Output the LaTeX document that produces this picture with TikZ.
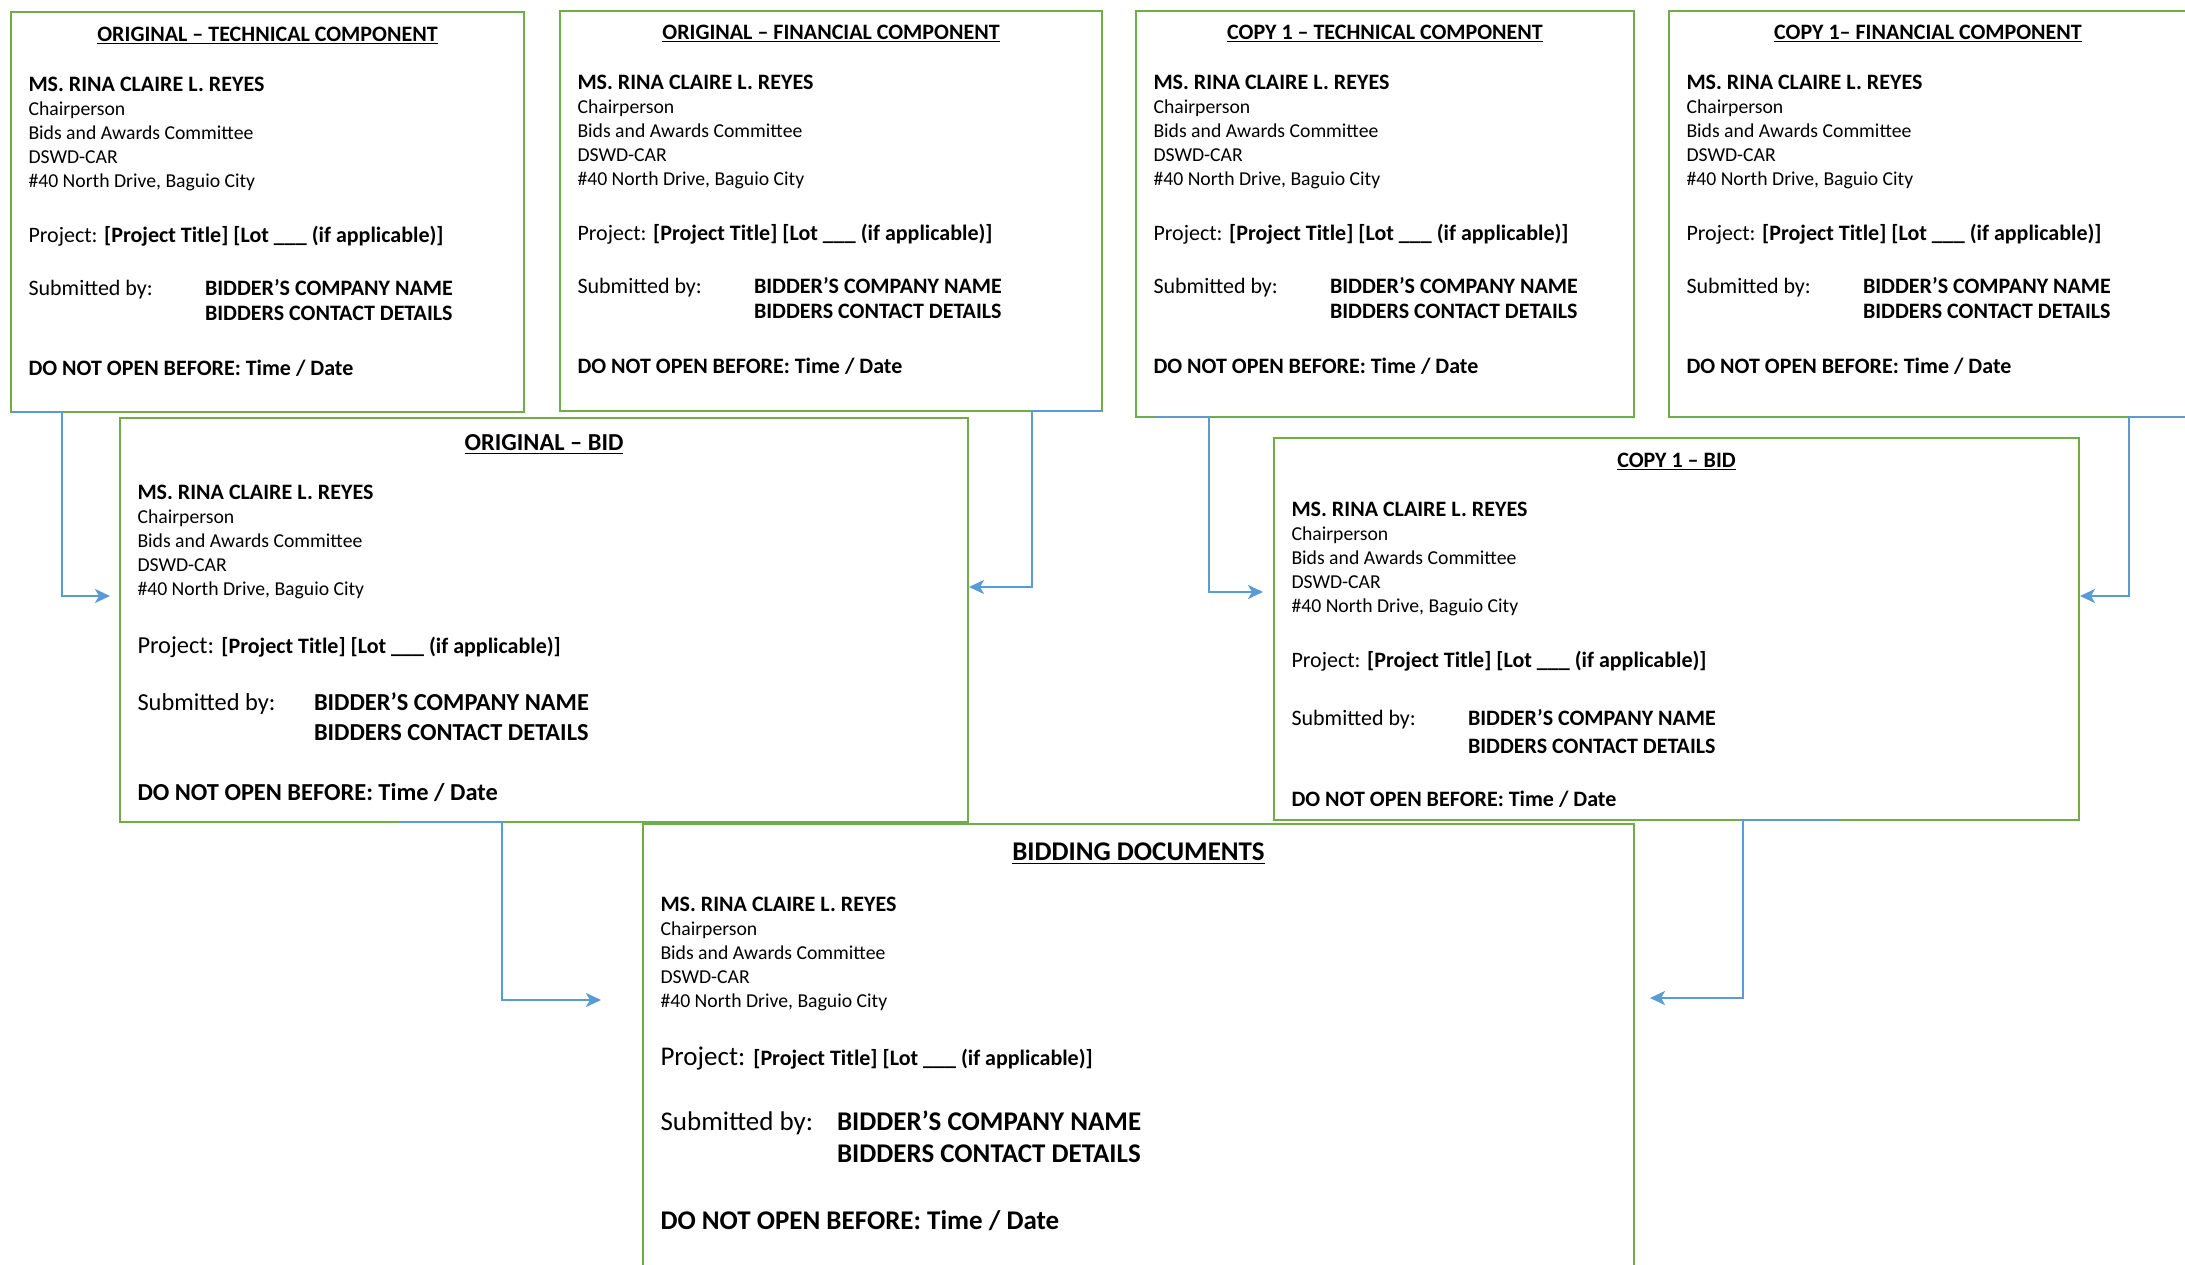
\documentclass[tikz,border=0pt]{standalone}
\usepackage{fontspec}
\setmainfont{Carlito}
\usetikzlibrary{arrows.meta,calc}
\definecolor{boxgreen}{HTML}{70AD47}
\definecolor{connblue}{HTML}{5B9BD5}
\newcommand\fsz[1]{\fontsize{#1pt}{#1pt}\selectfont}
\newcommand\setoffs[8]{\def\oT{#1}\def\oN{#2}\def\oC{#3}\def\oS{#4}\def\oP{#5}\def\oB{#6}\def\oK{#7}\def\oD{#8}}
\tikzset{
  envbox/.style={draw=boxgreen, line width=2.2pt, fill=white, rectangle, inner sep=0pt, outer sep=0pt},
  txt/.style={anchor=base west, inner sep=0pt, outer sep=0pt, text=black},
  conn/.style={draw=connblue, line width=2.2pt, -{Stealth[length=15pt,width=14pt,inset=4pt]}},
  uline/.style={line width=1.4pt, black}
}
% id, left, top, right, bottom, title, title size, body size
\newcommand\envbox[8]{%
  \node[envbox, minimum width={(#4)-(#2)}, minimum height={(#5)-(#3)}, anchor=north west] (#1) at (#2,#3) {};
  \pgfmathsetmacro\cx{((#2)+(#4))/2}%
  \pgfmathsetmacro\lx{(#2)+17.5}%
  \pgfmathsetmacro\rx{(#2)+194}%
  \node[txt, anchor=base, font={\bfseries\fsz{#7}}] (#1-title) at (\cx,{#3+\oT+0.322*#7}) {#6};
  \draw[uline] ([yshift={-0.1*#7}]#1-title.base west) -- ([yshift={-0.1*#7}]#1-title.base east);
  \node[txt, font={\bfseries\fsz{22}}] (#1-name) at (\lx,{#3+\oN+7.1}) {MS. RINA CLAIRE L. REYES};
  \node[txt, font={\fsz{19.7}}] (#1-chair) at (\lx,{#3+\oC+6.3}) {Chairperson};
  \node[txt, font={\fsz{19.7}}] (#1-bac) at (\lx,{#3+\oC+\oS+6.3}) {Bids and Awards Committee};
  \node[txt, font={\fsz{19.7}}] (#1-dswd) at (\lx,{#3+\oC+2*\oS+6.3}) {DSWD-CAR};
  \node[txt, font={\fsz{19.7}}] (#1-addr) at (\lx,{#3+\oC+3*\oS+6.3}) {\#40 North Drive, Baguio City};
  \node[txt] (#1-proj) at (\lx,{#3+\oP+0.322*#8}) {{\fsz{#8}Project: }{\bfseries\fsz{22}[Project Title] [Lot \_\_\_ (if applicable)]}};
  \node[txt, font={\fsz{#8}}] (#1-sub) at (\lx,{#3+\oB+0.322*#8}) {Submitted by:};
  \node[txt, font={\bfseries\fsz{#8}}] (#1-comp) at (\rx,{#3+\oB+0.322*#8}) {BIDDER’S COMPANY NAME};
  \node[txt, font={\bfseries\fsz{#8}}] (#1-cont) at (\rx,{#3+\oK+0.322*#8}) {BIDDERS CONTACT DETAILS};
  \node[txt, font={\bfseries\fsz{#8}}] (#1-dno) at (\lx,{#3+\oD+0.322*#8}) {DO NOT OPEN BEFORE: Time / Date};
}
\begin{document}
\begin{tikzpicture}[x=1pt, y=-1pt]
\useasboundingbox (0,0) rectangle (2185,1265);
\clip (0,0) rectangle (2185,1265);
\fill[white] (0,0) rectangle (2185,1265);

\setoffs{22.5}{72.3}{97.6}{23.8}{223.3}{276.6}{301.6}{356.6}
\envbox{b1}{11}{12}{524}{412}{ORIGINAL – TECHNICAL COMPONENT}{22}{22}
\setoffs{21.5}{71.3}{96.6}{23.8}{222.3}{275.6}{300.6}{355.6}
\envbox{b2}{560}{11}{1102}{411}{ORIGINAL – FINANCIAL COMPONENT}{22}{22}
\envbox{b3}{1136}{11}{1634}{417}{COPY 1 – TECHNICAL COMPONENT}{22}{22}
\envbox{b4}{1669}{11}{2187}{417}{COPY 1– FINANCIAL COMPONENT}{22}{22}

\setoffs{25}{74}{99}{24}{228}{285}{315}{375}
\envbox{b5}{120}{418}{968}{822}{ORIGINAL – BID}{24.4}{24.4}
\setoffs{22}{71}{96}{24}{222}{280}{308}{361}
\envbox{b6}{1274}{438}{2079}{820}{COPY 1 – BID}{22}{22}
\setoffs{28}{80}{105}{24}{233}{298}{330}{397}
\envbox{b7}{643}{824}{1634}{1290}{BIDDING DOCUMENTS}{27}{27}

% connector bends and ends
\coordinate (a1k) at (62,412);   \coordinate (a1e) at (110,596);
\coordinate (a2k) at (1032,411); \coordinate (a2e) at (969,587);
\coordinate (a3k) at (1209,417); \coordinate (a3e) at (1263,592);
\coordinate (a4k) at (2129,417); \coordinate (a4e) at (2080,596);
\coordinate (a5k) at (502,822);  \coordinate (a5e) at (601,1000);
\coordinate (a6k) at (1743,820); \coordinate (a6e) at (1650,998);

\draw[conn] (b1.south west) -- (a1k) |- (a1e);
\draw[conn] (b2.south east) -- (a2k) |- (a2e);
\draw[conn] ([xshift=19pt]b3.south west) -- (a3k) |- (a3e);
\draw[conn] (b4.south east) -- (a4k) |- (a4e);
\draw[conn] ([xshift=279pt]b5.south west) -- (a5k) |- (a5e);
\draw[conn] ([xshift=-239pt]b6.south east) -- (a6k) |- (a6e);
\end{tikzpicture}
\end{document}
